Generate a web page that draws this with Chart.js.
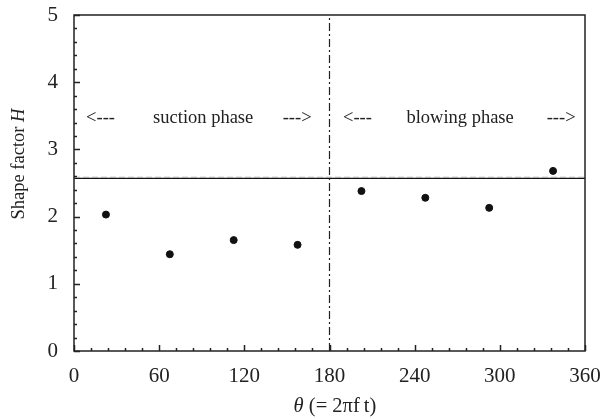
<!DOCTYPE html>
<html>
<head>
<meta charset="utf-8">
<script src="https://cdn.jsdelivr.net/npm/chart.js@4.4.1/dist/chart.umd.min.js"></script>
<style>
html,body{margin:0;padding:0;background:#fff;}
#wrap{width:602px;height:419px;position:relative;}
</style>
</head>
<body>
<div id="wrap"><canvas id="c" width="602" height="419"></canvas></div>
<script>
// ---- data ----
const thetaDeg = [22.5, 67.5, 112.5, 157.5, 202.5, 247.5, 292.5, 337.5];
const shapeFactor = [2.03, 1.44, 1.65, 1.58, 2.38, 2.28, 2.13, 2.68];
const meanH = 2.57;
const meanHDashed = 2.585;
const phaseBoundary = 180;
const xTicks = [0, 60, 120, 180, 240, 300, 360];
const yTicks = [0, 1, 2, 3, 4, 5];
const phaseLabels = ["suction phase", "blowing phase"];
const phaseLabelX = [91, 272];
const arrowLeft = ["<---", "<---"];
const arrowRight = ["--->", "--->"];
const arrowLeftX = [8.5, 189.5];
const arrowRightX = [147, 333];
const labelY = 3.47;

const FONT = "'Liberation Serif', 'DejaVu Serif', serif";

function drawMixed(ctx, parts, cx, cy) {
  let total = 0;
  parts.forEach(p => { ctx.font = p.font; total += ctx.measureText(p.t).width; });
  let xx = cx - total / 2;
  ctx.textAlign = 'left';
  ctx.textBaseline = 'middle';
  parts.forEach(p => { ctx.font = p.font; ctx.fillText(p.t, xx, cy); xx += ctx.measureText(p.t).width; });
}

const framePlugin = {
  id: 'frame',
  afterDatasetsDraw(chart) {
    const {ctx, chartArea: a, scales: {x, y}} = chart;
    ctx.save();
    ctx.strokeStyle = '#222';
    ctx.lineWidth = 1.5;
    ctx.beginPath();
    for (let v = 0; v <= 360; v += 12) {
      const px = Math.round(x.getPixelForValue(v)) + 0.5;
      const len = (v % 60 === 0) ? 6 : 3;
      ctx.moveTo(px, a.bottom); ctx.lineTo(px, a.bottom - len);
    }
    for (let i = 0; i <= 25; i++) {
      const v = i * 0.2;
      const py = Math.round(y.getPixelForValue(v)) + 0.5;
      const len = (i % 5 === 0) ? 6 : 3;
      ctx.moveTo(a.left, py); ctx.lineTo(a.left + len, py);
    }
    ctx.stroke();
    ctx.strokeRect(a.left, a.top, a.right - a.left, a.bottom - a.top);
    // phase labels
    ctx.fillStyle = '#222';
    ctx.font = "18.5px " + FONT;
    ctx.textBaseline = 'middle';
    const py = y.getPixelForValue(labelY);
    for (let i = 0; i < phaseLabels.length; i++) {
      ctx.textAlign = 'center';
      ctx.fillText(phaseLabels[i], x.getPixelForValue(phaseLabelX[i]), py);
      ctx.textAlign = 'left';
      ctx.fillText(arrowLeft[i], x.getPixelForValue(arrowLeftX[i]), py);
      ctx.fillText(arrowRight[i], x.getPixelForValue(arrowRightX[i]), py);
    }
    // axis titles
    const up = "18.5px " + FONT, it = "italic 18.5px " + FONT;
    const upX = "20.5px " + FONT, itX = "italic 20.5px " + FONT;
    drawMixed(ctx, [{t: 'θ', font: itX}, {t: ' (= 2πf\u2009t)', font: upX}], 335, 407);
    ctx.save();
    ctx.translate(19, 164);
    ctx.rotate(-Math.PI / 2);
    drawMixed(ctx, [{t: 'Shape factor ', font: up}, {t: 'H', font: it}], 0, 0);
    ctx.restore();
    ctx.restore();
  }
};

new Chart(document.getElementById('c'), {
  type: 'scatter',
  data: {
    datasets: [
      {
        label: 'H',
        data: thetaDeg.map((t, i) => ({x: t, y: shapeFactor[i]})),
        backgroundColor: '#111',
        borderColor: '#111',
        pointRadius: 3.5,
        pointHoverRadius: 3.5
      },
      {
        label: 'mean dashed',
        type: 'line',
        data: [{x: 0, y: meanHDashed}, {x: 360, y: meanHDashed}],
        borderColor: '#aaa',
        borderWidth: 1.2,
        borderDash: [6, 3],
        pointRadius: 0
      },
      {
        label: 'mean',
        type: 'line',
        data: [{x: 0, y: meanH}, {x: 360, y: meanH}],
        borderColor: '#111',
        borderWidth: 1.3,
        pointRadius: 0
      },
      {
        label: 'boundary',
        type: 'line',
        data: [{x: phaseBoundary, y: 0}, {x: phaseBoundary, y: 5}],
        borderColor: '#222',
        borderWidth: 1.2,
        borderDash: [8, 3, 2, 3],
        pointRadius: 0
      }
    ]
  },
  options: {
    responsive: false,
    animation: false,
    layout: {padding: {top: 15, right: 17, left: 0, bottom: 0}},
    plugins: {legend: {display: false}, tooltip: {enabled: false}},
    scales: {
      x: {
        type: 'linear', min: 0, max: 360,
        afterBuildTicks: s => { s.ticks = xTicks.map(v => ({value: v})); },
        afterFit: s => { s.height = 68; s.paddingLeft = 0; s.paddingRight = 0; },
        grid: {display: false, drawTicks: false},
        border: {display: false},
        ticks: {padding: 13, color: '#222', font: {family: FONT, size: 21}, maxRotation: 0},
        title: {display: false}
      },
      y: {
        type: 'linear', min: 0, max: 5,
        afterBuildTicks: s => { s.ticks = yTicks.map(v => ({value: v})); },
        afterFit: s => { s.width = 74; s.paddingTop = 0; s.paddingBottom = 0; },
        grid: {display: false, drawTicks: false},
        border: {display: false},
        ticks: {padding: 16, color: '#222', font: {family: FONT, size: 21}},
        title: {display: false}
      }
    }
  },
  plugins: [framePlugin]
});
</script>
</body>
</html>
